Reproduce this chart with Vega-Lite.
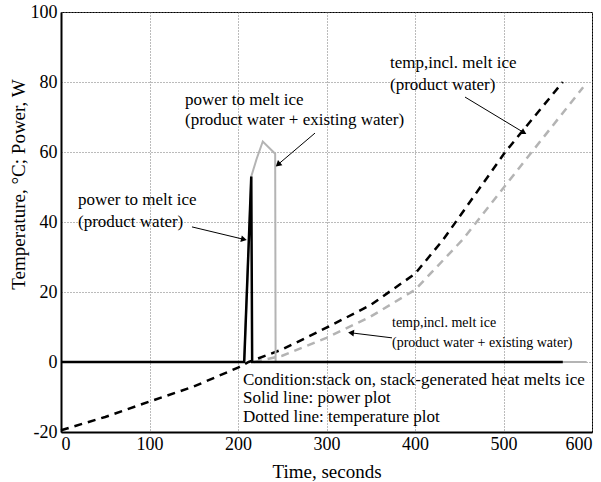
{
  "$schema": "https://vega.github.io/schema/vega-lite/v6.json",
  "width": 531,
  "height": 420,
  "autosize": {"type": "none"},
  "padding": {"left": 61, "top": 12, "right": 9, "bottom": 50},
  "background": "white",
  "config": {
    "view": {"stroke": "black", "strokeWidth": 1},
    "font": "'Liberation Serif', 'Times New Roman', serif",
    "axis": {
      "labelFont": "'Liberation Serif', 'Times New Roman', serif",
      "titleFont": "'Liberation Serif', 'Times New Roman', serif",
      "labelColor": "black",
      "titleColor": "black",
      "labelFontSize": 18,
      "titleFontSize": 19,
      "titleFontWeight": "normal",
      "domainColor": "black",
      "domainWidth": 2,
      "ticks": false,
      "gridColor": "#777",
      "gridDash": [1, 2],
      "gridWidth": 1
    }
  },
  "datasets": {
    "temp_pw": [
      {"t": 0, "v": -19.5}, {"t": 50, "v": -15.7}, {"t": 100, "v": -11.3}, {"t": 150, "v": -7.0},
      {"t": 200, "v": -1.6}, {"t": 212, "v": 0}, {"t": 250, "v": 3.6}, {"t": 300, "v": 9.8},
      {"t": 350, "v": 16.3}, {"t": 400, "v": 25.2}, {"t": 432, "v": 35},
      {"t": 502, "v": 60}, {"t": 567, "v": 80}
    ],
    "temp_pew": [
      {"t": 218, "v": 0}, {"t": 250, "v": 1.8}, {"t": 300, "v": 6.9},
      {"t": 350, "v": 13.0}, {"t": 400, "v": 20.6}, {"t": 454, "v": 35}, {"t": 532, "v": 60},
      {"t": 590, "v": 78.5}
    ],
    "power_pew": [
      {"t": 0, "v": 0}, {"t": 207, "v": 0}, {"t": 215, "v": 53}, {"t": 221, "v": 58},
      {"t": 228, "v": 63}, {"t": 242, "v": 59.5}, {"t": 242.5, "v": 0}, {"t": 594, "v": 0}
    ],
    "power_pw": [
      {"t": 0, "v": 0}, {"t": 207, "v": 0}, {"t": 215, "v": 53}, {"t": 216, "v": 0}, {"t": 567, "v": 0}
    ],
    "arrows": [
      {"id": "a1", "x": 287, "y": 65.4, "x2": 246, "y2": 56.6},
      {"id": "a2", "x": 148, "y": 38.6, "x2": 205.6, "y2": 35.1},
      {"id": "a3", "x": 456.5, "y": 75.7, "x2": 522, "y2": 65.7},
      {"id": "a4", "x": 374, "y": 6.9, "x2": 328.8, "y2": 8.3}
    ],
    "labels": [
      {"x": 140.1, "y": 74.9, "text": "power to melt ice", "size": "big"},
      {"x": 140.1, "y": 69.1, "text": "(product water + existing water)", "size": "big"},
      {"x": 19.2, "y": 46.3, "text": "power to melt ice", "size": "big"},
      {"x": 19.2, "y": 40.0, "text": "(product water)", "size": "big"},
      {"x": 371.8, "y": 85.4, "text": "temp,incl. melt ice", "size": "big"},
      {"x": 371.8, "y": 79.1, "text": "(product water)", "size": "big"},
      {"x": 374, "y": 11.1, "text": "temp,incl. melt ice", "size": "small"},
      {"x": 374, "y": 5.4, "text": "(product water + existing water)", "size": "small"},
      {"x": 205.6, "y": -5.1, "text": "Condition:stack on, stack-generated heat melts ice", "size": "big"},
      {"x": 205.6, "y": -10.3, "text": "Solid line: power plot", "size": "big"},
      {"x": 205.6, "y": -15.7, "text": "Dotted line: temperature plot", "size": "big"}
    ]
  },
  "encoding": {
    "x": {"field": "t", "type": "quantitative", "scale": {"domain": [0, 600], "nice": false}, "axis": {"values": [0, 100, 200, 300, 400, 500, 600], "title": "Time, seconds", "titleFontWeight": "normal", "grid": true, "labelPadding": 3, "titlePadding": 9}},
    "y": {"field": "v", "type": "quantitative", "scale": {"domain": [-20, 100], "nice": false}, "axis": {"values": [-20, 0, 20, 40, 60, 80, 100], "labelExpr": "replace(datum.label, '−', '-')", "title": "Temperature, °C; Power, W", "titleFontWeight": "normal", "grid": true, "labelPadding": 4, "titleX": -43, "titleY": 172, "titleAngle": 270, "titleAlign": "center", "titleBaseline": "middle"}}
  },
  "layer": [
    {"data": {"name": "temp_pew"}, "mark": {"type": "line", "color": "#b4b4b4", "strokeWidth": 2.5, "strokeDash": [8, 6]}},
    {"data": {"name": "temp_pw"}, "mark": {"type": "line", "color": "black", "strokeWidth": 2.5, "strokeDash": [8, 6]}},
    {"data": {"name": "power_pew"}, "mark": {"type": "line", "color": "#b4b4b4", "strokeWidth": 2}},
    {"data": {"name": "power_pw"}, "mark": {"type": "line", "color": "black", "strokeWidth": 2.5}},
    {"data": {"name": "arrows"}, "mark": {"type": "rule", "color": "black", "strokeWidth": 1},
     "encoding": {"x": {"field": "x", "type": "quantitative"}, "y": {"field": "y", "type": "quantitative"}, "x2": {"field": "x2"}, "y2": {"field": "y2"}}},
    {"data": {"name": "arrows"}, "transform": [{"filter": "datum.id == 'a1'"}], "mark": {"type": "point", "shape": "triangle", "filled": true, "color": "black", "size": 45, "angle": 229, "opacity": 1},
     "encoding": {"x": {"field": "x2", "type": "quantitative"}, "y": {"field": "y2", "type": "quantitative"}}},
    {"data": {"name": "arrows"}, "transform": [{"filter": "datum.id == 'a2'"}], "mark": {"type": "point", "shape": "triangle", "filled": true, "color": "black", "size": 45, "angle": 103, "opacity": 1},
     "encoding": {"x": {"field": "x2", "type": "quantitative"}, "y": {"field": "y2", "type": "quantitative"}}},
    {"data": {"name": "arrows"}, "transform": [{"filter": "datum.id == 'a3'"}], "mark": {"type": "point", "shape": "triangle", "filled": true, "color": "black", "size": 45, "angle": 121, "opacity": 1},
     "encoding": {"x": {"field": "x2", "type": "quantitative"}, "y": {"field": "y2", "type": "quantitative"}}},
    {"data": {"name": "arrows"}, "transform": [{"filter": "datum.id == 'a4'"}], "mark": {"type": "point", "shape": "triangle", "filled": true, "color": "black", "size": 45, "angle": 277, "opacity": 1},
     "encoding": {"x": {"field": "x2", "type": "quantitative"}, "y": {"field": "y2", "type": "quantitative"}}},
    {"data": {"name": "labels"}, "transform": [{"filter": "datum.size == 'big'"}], "mark": {"type": "text", "align": "left", "baseline": "middle", "font": "'Liberation Serif', 'Times New Roman', serif", "fontSize": 17, "color": "black"},
     "encoding": {"x": {"field": "x", "type": "quantitative"}, "y": {"field": "y", "type": "quantitative"}, "text": {"field": "text"}}},
    {"data": {"name": "labels"}, "transform": [{"filter": "datum.size == 'small'"}], "mark": {"type": "text", "align": "left", "baseline": "middle", "font": "'Liberation Serif', 'Times New Roman', serif", "fontSize": 14, "color": "black"},
     "encoding": {"x": {"field": "x", "type": "quantitative"}, "y": {"field": "y", "type": "quantitative"}, "text": {"field": "text"}}}
  ]
}
